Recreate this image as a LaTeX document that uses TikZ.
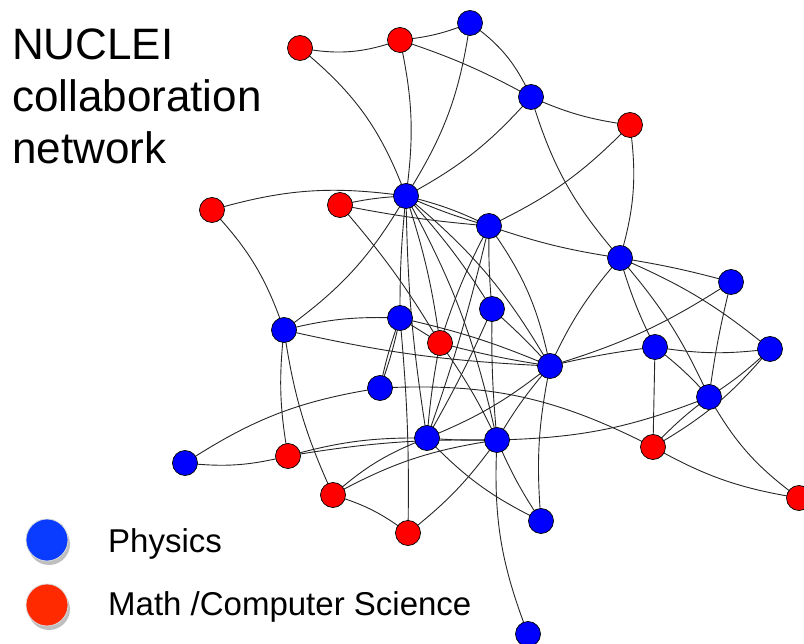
\documentclass[tikz,border=0pt]{standalone}
\usepackage{fontspec}
\setmainfont{Liberation Sans}
\definecolor{legblue}{HTML}{0A3CFF}
\definecolor{legred}{HTML}{FF2A00}
\begin{document}
\begin{tikzpicture}[x=1pt,y=-1pt,
  phys/.style={circle,draw=black,line width=0.7pt,fill=blue,minimum size=25pt,inner sep=0pt},
  math/.style={circle,draw=black,line width=0.7pt,fill=red,minimum size=25pt,inner sep=0pt},
  e/.style={draw=black!85,line width=0.9pt},
  legdot/.style={circle,minimum size=42pt,inner sep=0pt,draw=black!15,line width=0.8pt},
  shadowdot/.style={circle,minimum size=42pt,inner sep=0pt,fill=black!25},
  title/.style={font=\fontsize{44}{52}\selectfont,align=left,anchor=north west,inner sep=0pt},
  legtext/.style={font=\fontsize{33}{36}\selectfont,anchor=base west,inner sep=0pt}]
\useasboundingbox (0,0) rectangle (804,644);
\clip (0,0) rectangle (804,644);
% title
\node[title] (ttl) at (12,29) {NUCLEI\\collaboration\\network};
% nodes
\foreach \n/\x/\y in {R1/300/48,R2/400/40,R3/630/125,R4/212/210,R5/340/205,R6/440/343,
  R7/288/456,R8/333/495,R9/408/533,R10/653/447,R11/799/498}
  \coordinate (\n) at (\x,\y);
\foreach \n/\x/\y in {B1/470/23,B2/531/97,B3/406/196,B4/489/226,B5/620/258,B6/731/282,
  B7/284/330,B8/400/318,B9/492/309,B10/655/347,B11/770/349,B12/550/366,B13/380/388,
  B14/709/397,B15/427/438,B16/497/440,B17/185/463,B18/541/521,B19/528/634}
  \coordinate (\n) at (\x,\y);
% edges
\foreach \a/\b/\c in {R1/R2/-15,R2/B1/-8,R2/B2/5,R1/B3/15,R2/B3/10,B1/B3/12,B1/B2/15,
  B3/B2/-10,B2/R3/-8,B2/B5/-12,R3/B5/12,R3/B4/10,B4/B5/-5,
  R4/B3/12,R4/B7/12,R5/B3/5,R5/B4/-3,R5/R6/5,B3/B7/12,B3/B8/-3,B3/R6/5,
  B3/B4/6,B3/B4/-4,B3/B9/5,B3/B12/10,B3/B15/-4,B3/B16/8,
  B7/B8/8,B7/B12/-5,B8/R6/0,B8/B13/4,B8/B13/-4,B13/R10/15,B13/B17/-12,
  B7/R7/-8,B7/R8/-8,B17/R7/-10,R7/B15/8,R7/B16/5,R8/B15/10,R8/B16/10,
  R8/R9/10,R9/B8/-3,R9/B16/-8,B15/B18/-10,B16/B18/-5,B16/B19/-12,B16/B14/-10,
  R10/B14/5,R10/B11/-10,R10/R11/-10,B14/R11/-12,R10/B10/0,B12/B18/-8,
  B4/B9/-3,B4/B12/12,B4/R6/-5,B4/B15/3,B9/B12/3,B9/B16/-3,B9/B15/3,
  R6/B12/-3,R6/B16/5,R6/B15/-3,B8/B12/5,B12/B15/8,B12/B16/-5,B15/B16/-3,
  B5/B6/3,B5/B11/8,B5/B10/-5,B5/B14/8,B5/B12/-8,B6/B12/8,B6/B14/-3,
  B10/B11/-8,B10/B14/5,B11/B14/5,B10/B12/-3}
  \draw[e] (\a) to[bend left=\c] (\b);
\foreach \n in {R1,R2,R3,R4,R5,R6,R7,R8,R9,R10,R11}
  \node[math] (n\n) at (\n) {};
\foreach \n in {B1,B2,B3,B4,B5,B6,B7,B8,B9,B10,B11,B12,B13,B14,B15,B16,B17,B18,B19}
  \node[phys] (n\n) at (\n) {};
% legend
\node[shadowdot] (ls1) at (49,544) {};
\node[legdot,fill=legblue] (lb) at (47,540) {};
\node[shadowdot] (ls2) at (49,609) {};
\node[legdot,fill=legred] (lr) at (47,605) {};
\node[legtext] (lt1) at (108,552) {Physics};
\node[legtext] (lt2) at (108,615) {Math /Computer Science};
\end{tikzpicture}
\end{document}
